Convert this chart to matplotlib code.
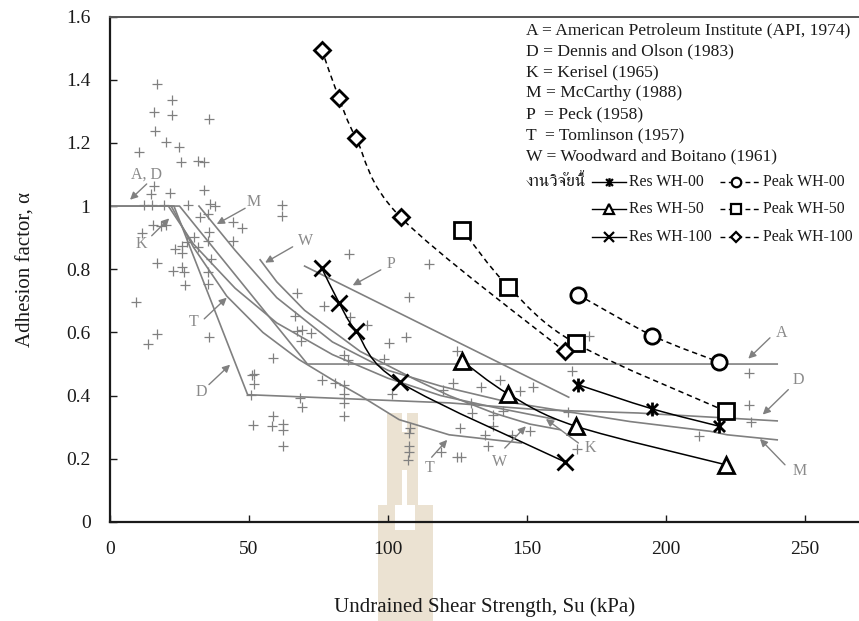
import matplotlib
matplotlib.use("Agg")
import matplotlib.pyplot as plt
from matplotlib import font_manager, ft2font
from matplotlib.path import Path
from matplotlib.patches import PathPatch, Rectangle
from matplotlib.lines import Line2D

# ---------------- data ----------------
# Field/literature data points (Su in kPa, adhesion factor)
pts_su = [16.8, 22.2, 15.9, 22.4, 35.6, 16.2, 20.0, 24.8, 10.4, 25.5, 31.5, 33.8,
          15.9, 14.7, 21.6, 33.7, 12.3, 15.0, 19.5, 27.9, 36.0, 37.8, 15.6, 18.3,
          20.0, 11.4, 32.4, 35.4, 35.6, 44.4, 47.4, 44.4, 30.3, 35.1, 31.5, 27.6,
          25.8, 23.4, 26.0, 36.3, 16.8, 22.8, 25.8, 26.7, 35.4, 27.0, 35.4, 9.4,
          16.8, 13.6, 35.6, 51.0, 51.9, 50.7, 51.5, 61.8, 62.0, 86.1, 114.6, 107.6,
          67.3, 77.0, 58.7, 58.7, 62.1, 58.2, 62.1, 62.1, 68.3, 69.0, 76.1, 81.1,
          84.2, 84.2, 84.2, 84.2, 66.5, 67.1, 68.9, 72.2, 68.6, 86.5, 92.5, 84.1,
          85.6, 106.4, 100.5, 98.6, 101.3, 107.8, 107.5, 107.7, 107.5, 107.3, 125.9,
          123.4, 119.9, 133.3, 129.8, 130.3, 134.9, 136.1, 118.9, 124.7, 126.3,
          124.7, 172.4, 166.1, 140.3, 147.5, 152.0, 137.7, 141.5, 164.9, 137.9,
          144.5, 151.1, 167.9, 230.0, 230.0, 230.4, 212.0, 51.8]
pts_a = [1.387, 1.337, 1.297, 1.289, 1.274, 1.239, 1.204, 1.186, 1.170, 1.139, 1.144, 1.139,
         1.065, 1.038, 1.040, 1.052, 1.003, 1.003, 1.003, 1.003, 1.006, 1.001, 0.940, 0.938,
         0.941, 0.914, 0.964, 0.975, 0.917, 0.948, 0.932, 0.890, 0.901, 0.890, 0.871, 0.887,
         0.874, 0.863, 0.851, 0.834, 0.819, 0.795, 0.808, 0.790, 0.790, 0.749, 0.752, 0.695,
         0.594, 0.562, 0.586, 0.466, 0.438, 0.402, 0.307, 1.004, 0.969, 0.848, 0.816, 0.711,
         0.724, 0.683, 0.518, 0.334, 0.311, 0.305, 0.291, 0.242, 0.393, 0.365, 0.449, 0.440,
         0.434, 0.405, 0.377, 0.337, 0.653, 0.604, 0.607, 0.597, 0.573, 0.649, 0.624, 0.528,
         0.513, 0.586, 0.566, 0.517, 0.406, 0.297, 0.283, 0.241, 0.223, 0.195, 0.296,
         0.440, 0.418, 0.426, 0.378, 0.345, 0.276, 0.241, 0.223, 0.206, 0.206,
         0.540, 0.588, 0.479, 0.451, 0.414, 0.428, 0.340, 0.350, 0.349, 0.303,
         0.276, 0.287, 0.231, 0.472, 0.371, 0.318, 0.273, 0.470]

# Design curves from the literature
a_su = [0, 25, 71, 240]
a_al = [1.0, 1.0, 0.5, 0.5]
d_su = [0, 23, 49.5, 122, 155, 190, 240]
d_al = [1.0, 1.0, 0.403, 0.377, 0.355, 0.345, 0.32]
t_su = [22, 30, 42, 55, 68, 80, 90, 104, 122, 148]
t_al = [1.0, 0.87, 0.715, 0.60, 0.514, 0.45, 0.40, 0.324, 0.276, 0.25]
k_su = [21, 30, 45, 60, 80, 100, 119, 137, 160]
k_al = [1.0, 0.88, 0.74, 0.63, 0.53, 0.455, 0.40, 0.365, 0.325]
m_su = [32, 45, 60, 80, 100, 119, 131, 143, 164, 187, 216, 222, 240]
m_al = [1.0, 0.86, 0.71, 0.57, 0.48, 0.43, 0.405, 0.38, 0.35, 0.318, 0.287, 0.276, 0.26]
w_su = [54, 60, 70, 90, 110, 122, 138, 151, 162]
w_al = [0.83, 0.76, 0.67, 0.54, 0.45, 0.40, 0.345, 0.31, 0.292]
p_su = [70, 165]
p_al = [0.81, 0.395]

# This study
res00_su = [168.2, 195.1, 219.2]
res00_a = [0.435, 0.358, 0.303]
res50_su = [126.5, 143.3, 167.6, 221.6]
res50_a = [0.511, 0.405, 0.303, 0.181]
res100_su = [76.1, 82.4, 88.5, 104.3, 163.7]
res100_a = [0.805, 0.694, 0.604, 0.442, 0.190]
peak00_su = [168.2, 195.1, 219.2]
peak00_a = [0.72, 0.59, 0.506]
peak50_su = [126.7, 143.3, 167.6, 221.7]
peak50_a = [0.925, 0.745, 0.565, 0.350]
peak100_su = [76.2, 82.3, 88.5, 104.6, 163.5]
peak100_a = [1.495, 1.343, 1.215, 0.964, 0.540]

ref_lines = ["A = American Petroleum Institute (API, 1974)",
             "D = Dennis and Olson (1983)",
             "K = Kerisel (1965)",
             "M = McCarthy (1988)",
             "P  = Peck (1958)",
             "T  = Tomlinson (1957)",
             "W = Woodward and Boitano (1961)"]
study_label = "งานวิจัยนี้"

# ---------------- fonts ----------------
def font_with(ch):
    names = []
    for f in font_manager.fontManager.ttflist:
        try:
            if ord(ch) in ft2font.FT2Font(f.fname).get_charmap():
                names.append(f.name)
        except Exception:
            pass
    names.sort(key=lambda n: (0 if "Serif" in n else 1, n))
    return names[0] if names else None

thai_font = font_with("ง")
families = ["Liberation Serif"] + ([thai_font] if thai_font else []) + ["DejaVu Sans"]
plt.rcParams["font.family"] = families

GRAY = "#808080"
LGRAY = "#8a8a8a"
INK = "#1a1a1a"

W, H = 859, 621
fig = plt.figure(figsize=(W / 100, H / 100), dpi=100)
ax = fig.add_axes([110 / W, 1 - 522 / H, (W - 110) / W, (522 - 16.5) / H])
ax.set_xlim(0, 749 / 2.78)
ax.set_ylim(0, 1.6)
ax.patch.set_visible(False)


def fx(px):
    return px / W


def fy(py):
    return 1 - py / H


# faint emblem behind the plot
wm = "#ebe2d2"
emblem = [(387, 413, 14.5, 92), (406.5, 413, 11.5, 92), (401.5, 432, 5, 38),
          (378, 505, 17, 116), (415, 505, 18, 116), (395, 530, 20, 91)]
for (x0, y0, w, h) in emblem:
    fig.patches.append(Rectangle((fx(x0), fy(y0 + h)), w / W, h / H,
                                 transform=fig.transFigure, color=wm, lw=0, zorder=-5))

# data scatter
ax.plot(pts_su, pts_a, linestyle="none", marker="+", ms=7.5, mew=0.9, color=GRAY, zorder=2)

# design curves
for xs, ys in [(a_su, a_al), (d_su, d_al), (t_su, t_al), (k_su, k_al),
               (m_su, m_al), (w_su, w_al), (p_su, p_al)]:
    ax.plot(xs, ys, color=GRAY, lw=1.2, zorder=2)


def smooth(ax, xs, ys, **kw):
    """Draw a smooth bezier through the points (Catmull-Rom tangents)."""
    n = len(xs)
    verts = [(xs[0], ys[0])]
    codes = [Path.MOVETO]
    for i in range(n - 1):
        x0, y0 = (xs[i - 1], ys[i - 1]) if i > 0 else (xs[i], ys[i])
        x1, y1 = xs[i], ys[i]
        x2, y2 = xs[i + 1], ys[i + 1]
        x3, y3 = (xs[i + 2], ys[i + 2]) if i + 2 < n else (x2, y2)
        c1 = (x1 + (x2 - x0) / 6, y1 + (y2 - y0) / 6)
        c2 = (x2 - (x3 - x1) / 6, y2 - (y3 - y1) / 6)
        verts += [c1, c2, (x2, y2)]
        codes += [Path.CURVE4] * 3
    ax.add_patch(PathPatch(Path(verts, codes), fill=False, **kw))


star = Path([(-1, -1), (1, 1), (-1, 1), (1, -1), (0, -1.25), (0, 1.25)],
            [Path.MOVETO, Path.LINETO, Path.MOVETO, Path.LINETO, Path.MOVETO, Path.LINETO])
DASH = (0, (3.5, 2.5))

series = [
    (res00_su, res00_a, "-", star, 10, "Res WH-00"),
    (res50_su, res50_a, "-", "^", 11, "Res WH-50"),
    (res100_su, res100_a, "-", "x", 11, "Res WH-100"),
    (peak00_su, peak00_a, DASH, "o", 11, "Peak WH-00"),
    (peak50_su, peak50_a, DASH, "s", 11, "Peak WH-50"),
    (peak100_su, peak100_a, DASH, "D", 8, "Peak WH-100"),
]
for xs, ys, ls, mk, ms, lab in series:
    smooth(ax, xs, ys, edgecolor="black", lw=1.1, linestyle=ls, zorder=3)
    ax.plot(xs, ys, linestyle="none", marker=mk, ms=ms, mew=2.0, mec="black",
            mfc="white", zorder=4)

# curve labels and arrows
labels = [
    ("A, D", (13.2, 1.07), (7.2, 1.02), (13.3, 1.1)),
    ("K", (15.0, 0.906), (21.3, 0.961), (11.4, 0.879)),
    ("M", (48.6, 0.993), (38.4, 0.943), (51.8, 1.012)),
    ("W", (65.7, 0.871), (55.8, 0.821), (70.5, 0.89)),
    ("P", (97.4, 0.798), (87.3, 0.749), (101.0, 0.816)),
    ("T", (33.9, 0.643), (42.0, 0.71), (30.0, 0.633)),
    ("D", (35.6, 0.435), (43.2, 0.498), (33.0, 0.412)),
    ("T", (115.7, 0.205), (121.3, 0.26), (115.1, 0.17)),
    ("W", (142.0, 0.234), (149.6, 0.303), (140.3, 0.191)),
    ("K", (168.5, 0.25), (156.8, 0.326), (172.7, 0.234)),
    ("A", (237.4, 0.583), (229.6, 0.517), (241.6, 0.599)),
    ("D", (244.0, 0.419), (234.8, 0.34), (247.6, 0.448)),
    ("M", (242.8, 0.181), (233.8, 0.263), (248.2, 0.16)),
]
for txt, start, end, pos in labels:
    ax.annotate("", xy=end, xytext=start,
                arrowprops=dict(arrowstyle="-|>", color=GRAY, lw=1.0,
                                mutation_scale=11, shrinkA=0, shrinkB=0), zorder=5)
    ax.text(pos[0], pos[1], txt, color=LGRAY, fontsize=11.5, ha="center", va="center", zorder=5)

# reference list
for i, s in enumerate(ref_lines):
    fig.text(fx(526), fy(30 + 21 * i), s, fontsize=12.6, va="center", ha="left", color=INK)
fig.text(fx(526), fy(182), study_label, fontsize=12.6, va="center", ha="left", color=INK)

# key for this study: two columns of sample handles
rows_y = [182, 209.5, 237]
cols = [(592, 626, 629), (720, 760, 763)]
for k, (xs, ys, ls, mk, ms, lab) in enumerate(series):
    col, row = divmod(k, 3)
    x0, x1, xt = cols[col]
    yy = fy(rows_y[row])
    fig.add_artist(Line2D([fx(x0), fx(x1)], [yy, yy], transform=fig.transFigure,
                          color="black", lw=1.0, linestyle=ls))
    xm = (x0 + x1) / 2 if col == 0 else x0 + 16
    fig.add_artist(Line2D([fx(xm)], [yy], transform=fig.transFigure, linestyle="none",
                          marker=mk, ms=ms * 0.62, mew=1.6, mec="black", mfc="white"))
    fig.text(fx(xt), yy, lab, fontsize=11.3, va="center", ha="left", color=INK)

# axes styling
for side in ["left", "bottom"]:
    ax.spines[side].set_color(INK)
    ax.spines[side].set_linewidth(1.6)
ax.spines["top"].set_color("#555555")
ax.spines["top"].set_linewidth(1.4)
ax.spines["right"].set_visible(False)
ax.set_xticks([0, 50, 100, 150, 200, 250])
ax.set_yticks([0, 0.2, 0.4, 0.6, 0.8, 1.0, 1.2, 1.4, 1.6])
ax.set_yticklabels(["0", "0.2", "0.4", "0.6", "0.8", "1", "1.2", "1.4", "1.6"])
ax.tick_params(direction="in", length=5, width=1.0, labelsize=14, pad=14, colors=INK)
ax.set_xlabel("Undrained Shear Strength, Su (kPa)", fontsize=15, labelpad=28, color=INK)
ax.set_ylabel("Adhesion factor, α", fontsize=15, labelpad=22, color=INK)

fig.savefig("out.png", dpi=100)
